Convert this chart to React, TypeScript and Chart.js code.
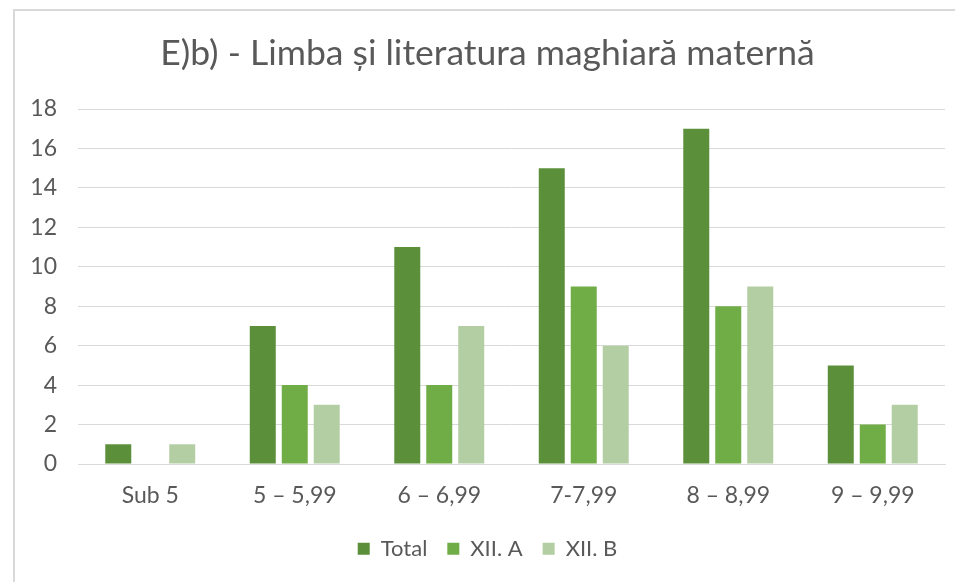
import React, { useEffect, useRef } from "react";
import { Chart, registerables } from "chart.js";

Chart.register(...registerables);

const categories = ["Sub 5", "5 – 5,99", "6 – 6,99", "7-7,99", "8 – 8,99", "9 – 9,99"];
const totalValues = [1, 7, 11, 15, 17, 5];
const xiiAValues = [0, 4, 4, 9, 8, 2];
const xiiBValues = [1, 3, 7, 6, 9, 3];
const seriesNames = ["Total", "XII. A", "XII. B"];
const seriesColors = ["#5B8F3A", "#70AD47", "#B4CEA4"];
const titleText = "E)b) - Limba și literatura maghiară maternă";
const yMin = 0;
const yMax = 18;
const yStep = 2;

const FONT = "Lato, 'Open Sans', sans-serif";
const TEXT = "#595959";
const GRID = "#D9D9D9";

export default function App() {
  const ref = useRef<HTMLCanvasElement | null>(null);

  useEffect(() => {
    if (!ref.current) return;
    const chart = new Chart(ref.current, {
      type: "bar",
      data: {
        labels: categories,
        datasets: [totalValues, xiiAValues, xiiBValues].map((vals, i) => ({
          label: seriesNames[i],
          data: vals,
          backgroundColor: seriesColors[i],
          borderWidth: 0,
          categoryPercentage: 0.664,
          barPercentage: 0.8125,
        })),
      },
      options: {
        responsive: false,
        animation: false,
        layout: { padding: { left: 15, right: 21, top: 11.6, bottom: 12.3 } },
        plugins: {
          tooltip: { enabled: false },
          title: {
            display: true,
            text: titleText,
            color: TEXT,
            font: { family: FONT, size: 35.5, weight: "normal" },
            padding: { top: 10, bottom: 33.8 },
          },
          legend: {
            position: "bottom",
            labels: {
              color: TEXT,
              font: { family: FONT, size: 22 },
              boxWidth: 12,
              boxHeight: 12,
              padding: 20,
            },
          },
        },
        scales: {
          x: {
            grid: { display: false, drawTicks: false },
            border: { display: true, color: GRID, width: 1 },
            ticks: {
              color: TEXT,
              font: { family: FONT, size: 23 },
              padding: 18.2,
              maxRotation: 0,
            },
            afterFit: (s: any) => {
              s.height = 53.7;
            },
          },
          y: {
            min: yMin,
            max: yMax,
            grid: { color: GRID, lineWidth: 1, drawTicks: false },
            border: { display: false },
            ticks: {
              stepSize: yStep,
              color: TEXT,
              font: { family: FONT, size: 23 },
              padding: 21,
            },
            afterFit: (s: any) => {
              s.width = 48;
            },
          },
        },
      },
    });
    return () => chart.destroy();
  }, []);

  return (
    <div
      style={{
        position: "fixed",
        left: 0,
        top: 0,
        width: 955,
        height: 582,
        overflow: "hidden",
        background: "#fff",
      }}
    >
      <div
        style={{
          position: "absolute",
          left: 13,
          top: 9,
          width: 960,
          height: 600,
          borderLeft: "2px solid #D9D9D9",
          borderTop: "2px solid #D9D9D9",
          background: "#fff",
        }}
      >
        <canvas ref={ref} width={951} height={571} style={{ display: "block" }} />
      </div>
    </div>
  );
}
